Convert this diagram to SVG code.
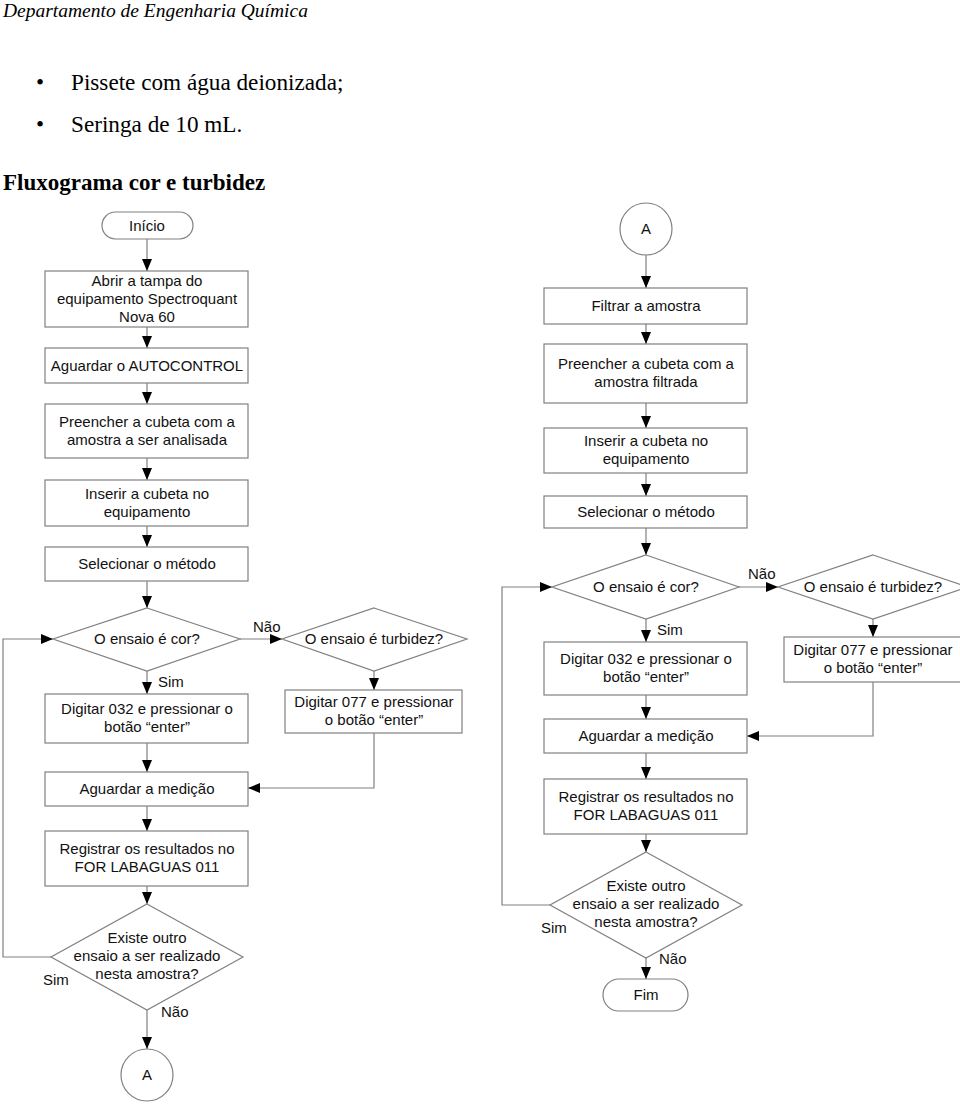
<svg xmlns="http://www.w3.org/2000/svg" width="960" height="1106" viewBox="0 0 960 1106">
<defs>
<marker id="arr" markerUnits="userSpaceOnUse" markerWidth="12" markerHeight="10" refX="12" refY="5" orient="auto">
<path d="M0,0 L12,5 L0,10 z" fill="#000"/>
</marker>
<style>
.shape{fill:#fff;stroke:#808080;stroke-width:1.2}
.t{font-family:"Liberation Sans",Arial,sans-serif;font-size:15px;fill:#111;text-anchor:middle}
.l{font-family:"Liberation Sans",Arial,sans-serif;font-size:15px;fill:#111}
.c{fill:none;stroke:#808080;stroke-width:1.2;marker-end:url(#arr)}
.hdr{font-family:"Liberation Serif","Times New Roman",serif;fill:#000}
</style>
</defs>
<rect width="960" height="1106" fill="#fff"/>
<text class="hdr" x="3" y="17" font-size="19.5" font-style="italic">Departamento de Engenharia Química</text>
<text class="hdr" x="36" y="90" font-size="23">•</text>
<text class="hdr" x="71" y="90" font-size="23.2">Pissete com água deionizada;</text>
<text class="hdr" x="36" y="132" font-size="23">•</text>
<text class="hdr" x="71" y="132" font-size="23.2">Seringa de 10 mL.</text>
<text class="hdr" x="3" y="190" font-size="23" font-weight="bold">Fluxograma cor e turbidez</text>

<g id="connectors">
<path class="c" d="M147,239 V271"/>
<path class="c" d="M147,327 V348"/>
<path class="c" d="M147,383 V404"/>
<path class="c" d="M147,458 V480"/>
<path class="c" d="M147,526 V547"/>
<path class="c" d="M147,581 V608"/>
<path class="c" d="M240,639 H282"/>
<path class="c" d="M147,671 V694"/>
<path class="c" d="M374,671 V690"/>
<path class="c" d="M147,743 V772"/>
<path class="c" d="M374,733 V788 H248"/>
<path class="c" d="M147,806 V831"/>
<path class="c" d="M147,886 V904"/>
<path class="c" d="M51,957 H3 V639 H53"/>
<path class="c" d="M147,1010 V1049"/>
<path class="c" d="M646,255 V288"/>
<path class="c" d="M646,324 V344"/>
<path class="c" d="M646,403 V428"/>
<path class="c" d="M646,473 V496"/>
<path class="c" d="M646,528 V555"/>
<path class="c" d="M739,587 H778"/>
<path class="c" d="M646,619 V642"/>
<path class="c" d="M873,619 V637"/>
<path class="c" d="M646,695 V719"/>
<path class="c" d="M873,682 V736 H747"/>
<path class="c" d="M646,753 V779"/>
<path class="c" d="M646,834 V852"/>
<path class="c" d="M550,905 H502 V587 H552"/>
<path class="c" d="M646,958 V979"/>
<text class="l" x="253" y="632">Não</text>
<text class="l" x="158" y="687">Sim</text>
<text class="l" x="43" y="985">Sim</text>
<text class="l" x="161" y="1017">Não</text>
<text class="l" x="748" y="579">Não</text>
<text class="l" x="657" y="635">Sim</text>
<text class="l" x="541" y="933">Sim</text>
<text class="l" x="659" y="964">Não</text>
</g>

<g id="inicio"><rect class="shape" x="102" y="212" width="91" height="27" rx="13.5"/><text class="t" x="147" y="231">Início</text></g>
<g id="abrir"><rect class="shape" x="45" y="271" width="203" height="56"/><text class="t" x="147" y="286">Abrir a tampa do</text><text class="t" x="147" y="304">equipamento Spectroquant</text><text class="t" x="147" y="322">Nova 60</text></g>
<g id="autocontrol"><rect class="shape" x="45" y="348" width="203" height="35"/><text class="t" x="147" y="371">Aguardar o AUTOCONTROL</text></g>
<g id="preencher1"><rect class="shape" x="45" y="404" width="203" height="54"/><text class="t" x="147" y="427">Preencher a cubeta com a</text><text class="t" x="147" y="445">amostra a ser analisada</text></g>
<g id="inserir1"><rect class="shape" x="45" y="480" width="203" height="46"/><text class="t" x="147" y="499">Inserir a cubeta no</text><text class="t" x="147" y="517">equipamento</text></g>
<g id="selecionar1"><rect class="shape" x="45" y="547" width="203" height="34"/><text class="t" x="147" y="569">Selecionar o método</text></g>
<g id="cor1"><polygon class="shape" points="147,608 240,639 147,671 53,639"/><text class="t" x="147" y="644">O ensaio é cor?</text></g>
<g id="turb1"><polygon class="shape" points="374,608 467,639 374,671 282,639"/><text class="t" x="374" y="644">O ensaio é turbidez?</text></g>
<g id="dig032a"><rect class="shape" x="45" y="694" width="203" height="49"/><text class="t" x="147" y="714">Digitar 032 e pressionar o</text><text class="t" x="147" y="732">botão “enter”</text></g>
<g id="dig077a"><rect class="shape" x="285" y="690" width="177" height="43"/><text class="t" x="374" y="707">Digitar 077 e pressionar</text><text class="t" x="374" y="725">o botão “enter”</text></g>
<g id="aguardar1"><rect class="shape" x="45" y="772" width="203" height="34"/><text class="t" x="147" y="794">Aguardar a medição</text></g>
<g id="registrar1"><rect class="shape" x="45" y="831" width="203" height="55"/><text class="t" x="147" y="854">Registrar os resultados no</text><text class="t" x="147" y="872">FOR LABAGUAS 011</text></g>
<g id="existe1"><polygon class="shape" points="147,904 243,957 147,1010 51,957"/><text class="t" x="147" y="943">Existe outro</text><text class="t" x="147" y="961">ensaio a ser realizado</text><text class="t" x="147" y="979">nesta amostra?</text></g>
<g id="contA1"><circle class="shape" cx="147" cy="1075" r="26"/><text class="t" x="147" y="1080">A</text></g>

<g id="contA2"><circle class="shape" cx="646" cy="229" r="26"/><text class="t" x="646" y="234">A</text></g>
<g id="filtrar"><rect class="shape" x="544" y="288" width="203" height="36"/><text class="t" x="646" y="311">Filtrar a amostra</text></g>
<g id="preencher2"><rect class="shape" x="544" y="344" width="203" height="59"/><text class="t" x="646" y="369">Preencher a cubeta com a</text><text class="t" x="646" y="387">amostra filtrada</text></g>
<g id="inserir2"><rect class="shape" x="544" y="428" width="203" height="45"/><text class="t" x="646" y="446">Inserir a cubeta no</text><text class="t" x="646" y="464">equipamento</text></g>
<g id="selecionar2"><rect class="shape" x="544" y="496" width="203" height="32"/><text class="t" x="646" y="517">Selecionar o método</text></g>
<g id="cor2"><polygon class="shape" points="646,555 739,587 646,619 552,587"/><text class="t" x="646" y="592">O ensaio é cor?</text></g>
<g id="turb2"><polygon class="shape" points="873,555 968,587 873,619 778,587"/><text class="t" x="873" y="592">O ensaio é turbidez?</text></g>
<g id="dig032b"><rect class="shape" x="544" y="642" width="203" height="53"/><text class="t" x="646" y="664">Digitar 032 e pressionar o</text><text class="t" x="646" y="682">botão “enter”</text></g>
<g id="dig077b"><rect class="shape" x="784" y="637" width="178" height="45"/><text class="t" x="873" y="655">Digitar 077 e pressionar</text><text class="t" x="873" y="673">o botão “enter”</text></g>
<g id="aguardar2"><rect class="shape" x="544" y="719" width="203" height="34"/><text class="t" x="646" y="741">Aguardar a medição</text></g>
<g id="registrar2"><rect class="shape" x="544" y="779" width="203" height="55"/><text class="t" x="646" y="802">Registrar os resultados no</text><text class="t" x="646" y="820">FOR LABAGUAS 011</text></g>
<g id="existe2"><polygon class="shape" points="646,852 742,905 646,958 550,905"/><text class="t" x="646" y="891">Existe outro</text><text class="t" x="646" y="909">ensaio a ser realizado</text><text class="t" x="646" y="927">nesta amostra?</text></g>
<g id="fim"><rect class="shape" x="603" y="979" width="85" height="32" rx="16"/><text class="t" x="646" y="1000">Fim</text></g>
</svg>
